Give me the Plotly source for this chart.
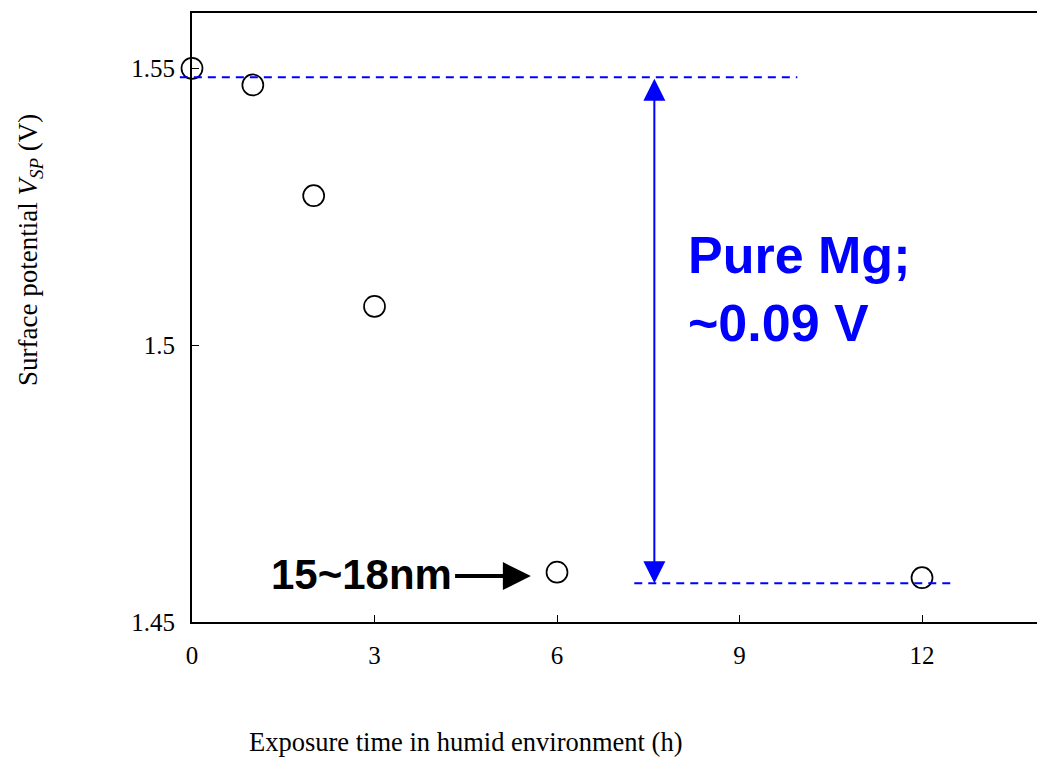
import plotly.graph_objects as go

# Data
time_h = [0, 1, 2, 3, 6, 12]
vsp = [1.550, 1.547, 1.527, 1.507, 1.459, 1.458]

x_ticks = [0, 3, 6, 9, 12]
y_ticks = [1.45, 1.5, 1.55]
y_ticklabels = ["1.45", "1.5", "1.55"]

top_ref = 1.5484      # upper reference level
bottom_ref = 1.457    # lower reference level
top_ref_x = [-0.2, 9.95]
bottom_ref_x = [7.27, 12.47]
span_x = 7.6

X_MAX = 13.89
Y_RANGE = [1.45, 1.56]

fig = go.Figure()
fig.add_trace(go.Scatter(
    x=time_h, y=vsp, mode="markers", cliponaxis=False,
    marker=dict(symbol="circle-open", size=21, color="black",
                line=dict(color="black", width=1.7)),
    showlegend=False,
))

serif = "Liberation Serif, Times New Roman, serif"
sans = "Liberation Sans, Arial, sans-serif"

fig.update_layout(
    width=1037, height=757,
    margin=dict(l=192, r=0, t=13, b=135),
    plot_bgcolor="white", paper_bgcolor="white",
    xaxis=dict(range=[0, X_MAX], tickvals=x_ticks, ticks="inside", ticklen=7,
               tickwidth=1.3, tickcolor="black", showline=True, linecolor="black",
               linewidth=2, mirror=True, showgrid=False, zeroline=False,
               tickfont=dict(family=serif, size=25, color="black"),
               ticklabelstandoff=10),
    yaxis=dict(range=Y_RANGE, tickvals=y_ticks, ticktext=y_ticklabels,
               ticks="inside", ticklen=7, tickwidth=1.3, tickcolor="black",
               showline=True, linecolor="black", linewidth=2, showgrid=False,
               zeroline=False, tickfont=dict(family=serif, size=25, color="black"),
               ticklabelstandoff=10),
)

def px(xv):
    return xv / X_MAX

# dashed reference lines
fig.add_shape(type="line", xref="paper", yref="y",
              x0=px(top_ref_x[0]), x1=px(top_ref_x[1]), y0=top_ref, y1=top_ref,
              line=dict(color="#0000ff", width=2, dash="8px,6px"))
fig.add_shape(type="line", xref="x", yref="y",
              x0=bottom_ref_x[0], x1=bottom_ref_x[1], y0=bottom_ref, y1=bottom_ref,
              line=dict(color="#0000ff", width=2, dash="8px,6px"))

# double headed arrow
fig.add_annotation(x=span_x, y=bottom_ref, ax=span_x, ay=top_ref,
                   xref="x", yref="y", axref="x", ayref="y", text="",
                   showarrow=True, arrowhead=2, startarrowhead=2, arrowside="end+start",
                   arrowsize=2.2, startarrowsize=2.2, arrowwidth=2, arrowcolor="#0000ff",
                   standoff=0, startstandoff=0)

fig.add_annotation(x=(686 - 192) / 845, y=(622 - 289) / 609, xref="paper", yref="paper",
                   text="<b>Pure Mg;<br>~0.09 V</b>", showarrow=False, align="left",
                   xanchor="left", yanchor="middle",
                   font=dict(family=sans, size=52, color="#0000ff"))

# black arrow to 6 h point
fig.add_annotation(x=5.57, y=1.4583, ax=4.3, ay=1.4583,
                   xref="x", yref="y", axref="x", ayref="y", text="",
                   showarrow=True, arrowhead=2, arrowsize=1.4, arrowwidth=4,
                   arrowcolor="black", standoff=0)
fig.add_annotation(x=4.3, y=1.4585, xref="x", yref="y", text="<b>15~18nm</b>",
                   showarrow=False, xanchor="right", yanchor="middle",
                   font=dict(family=sans, size=42, color="black"))

# axis titles
fig.add_annotation(x=(466 - 192) / 845, y=(622 - 742) / 609, xref="paper", yref="paper",
                   text="Exposure time in humid environment (h)", showarrow=False,
                   xanchor="center", yanchor="middle", borderpad=0,
                   font=dict(family=serif, size=26.5, color="black"))
fig.add_annotation(x=(30 - 192) / 845, y=(622 - 250) / 609, xref="paper", yref="paper",
                   text="Surface potential <i>V<sub>SP</sub></i> (V)", showarrow=False,
                   textangle=-90, xanchor="center", yanchor="middle",
                   font=dict(family=serif, size=27, color="black"))

fig.write_html("out.html")
